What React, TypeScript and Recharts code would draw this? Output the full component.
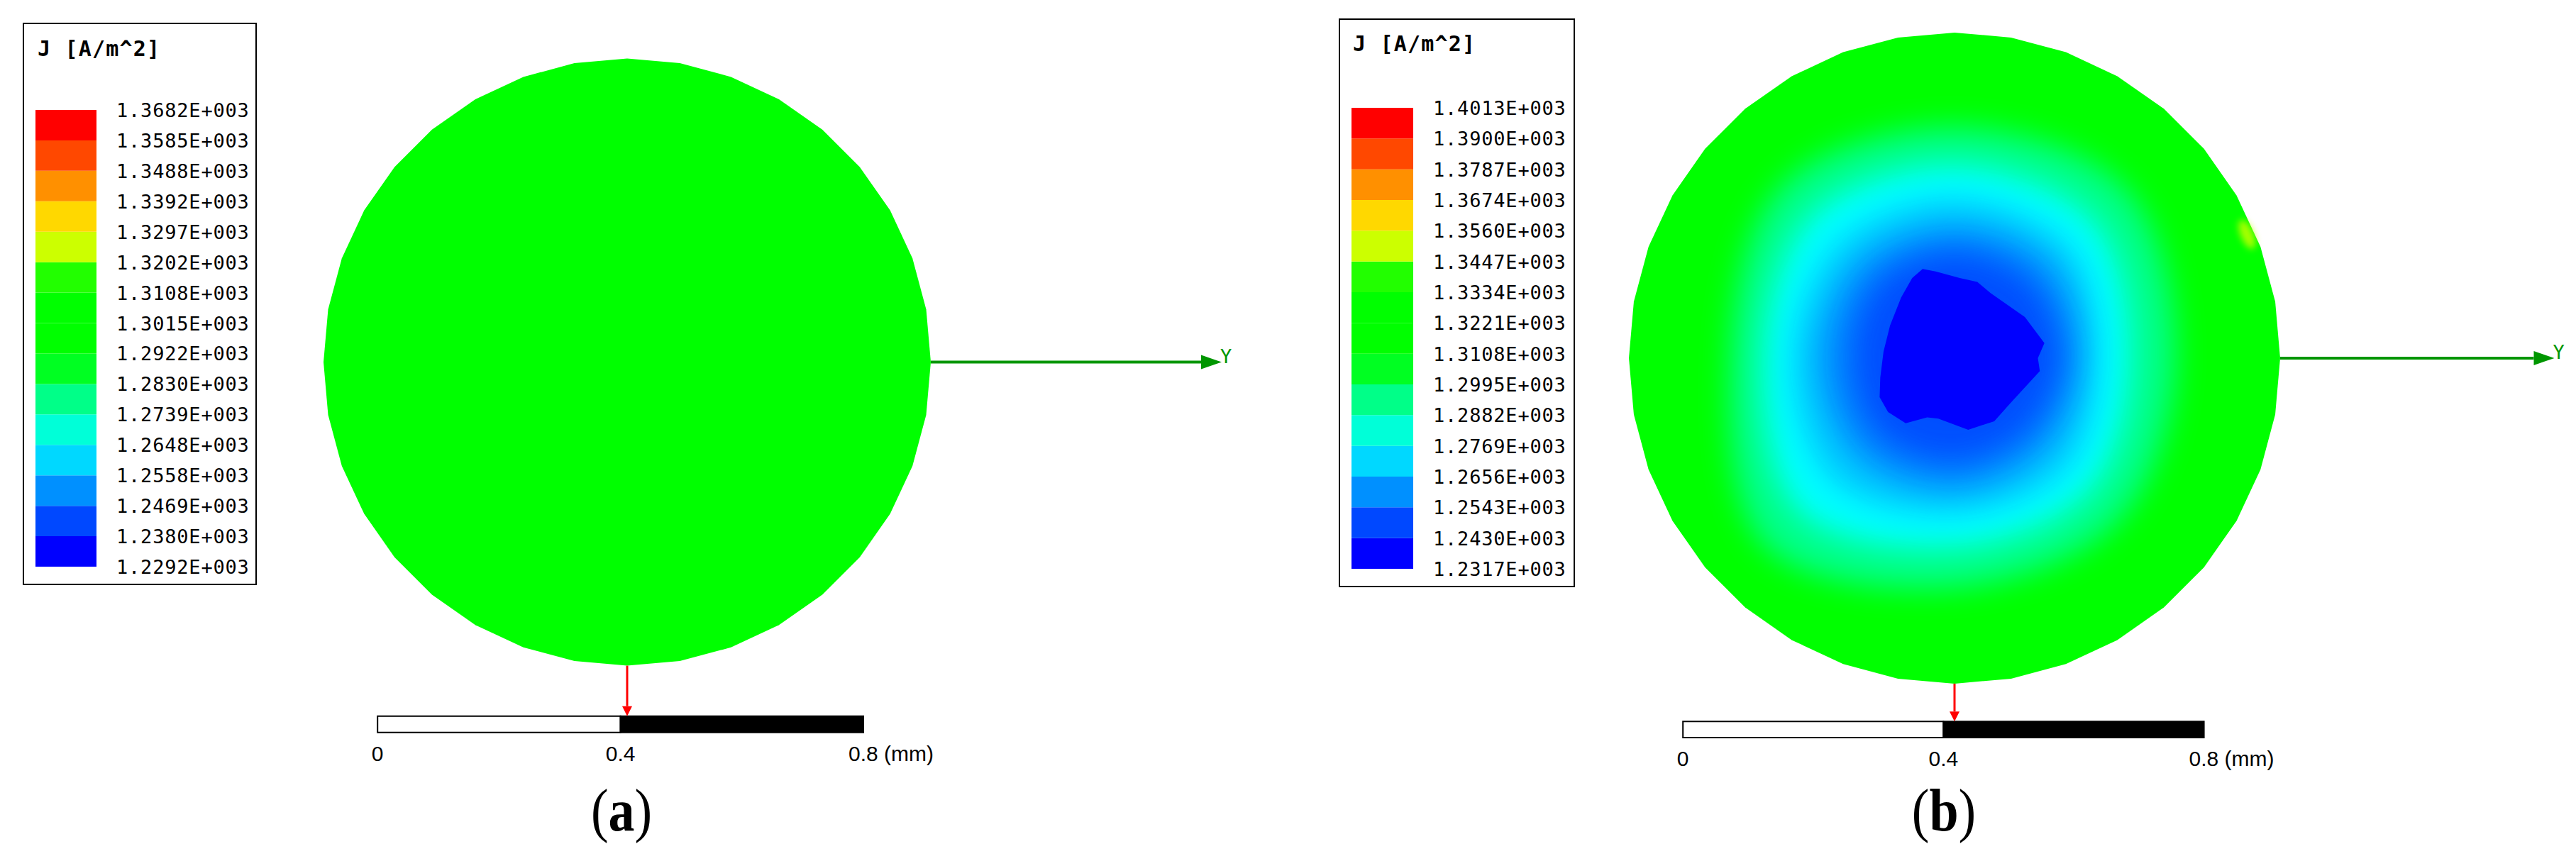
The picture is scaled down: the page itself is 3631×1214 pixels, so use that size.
import React from "react";
import {
  BarChart,
  Bar,
  XAxis,
  YAxis,
  ScatterChart,
  Scatter,
  ReferenceArea,
} from "recharts";

// legend colour bands, top (max) to bottom (min)
const BAND_COLORS = [
  "#ff0000",
  "#ff4800",
  "#ff9000",
  "#ffd800",
  "#ccff00",
  "#22ff00",
  "#00ff00",
  "#00ff00",
  "#00ff22",
  "#00ff88",
  "#00ffd8",
  "#00d8ff",
  "#0090ff",
  "#0048ff",
  "#0000ff",
];

// J levels [A/m^2], top to bottom
const LEVELS_A = [
  1368.2, 1358.5, 1348.8, 1339.2, 1329.7, 1320.2, 1310.8, 1301.5, 1292.2,
  1283.0, 1273.9, 1264.8, 1255.8, 1246.9, 1238.0, 1229.2,
];
const LEVELS_B = [
  1401.3, 1390.0, 1378.7, 1367.4, 1356.0, 1344.7, 1333.4, 1322.1, 1310.8,
  1299.5, 1288.2, 1276.9, 1265.6, 1254.3, 1243.0, 1231.7,
];

// wire cross-section (mm)
const WIRE_RADIUS = 0.5;
const WIRE_FACETS = 36;

// panel (b): outer radius (mm) of each shaded zone, read at these angles (deg)
const CONTOUR_ANGLES = [0, 45, 90, 135, 180, 225, 270, 315];
const RING_SPRING = [0.34, 0.37, 0.355, 0.375, 0.345, 0.41, 0.353, 0.355];
const RING_CYAN = [0.27, 0.3, 0.296, 0.31, 0.293, 0.335, 0.29, 0.29];
const RING_AZURE = [0.22, 0.245, 0.244, 0.25, 0.248, 0.265, 0.238, 0.24];
const RING_SKY = [0.19, 0.205, 0.2, 0.205, 0.205, 0.21, 0.2, 0.195];
const RING_BLUE = [0.163, 0.165, 0.163, 0.165, 0.157, 0.165, 0.16, 0.157];
const RING_COLORS = ["#00ff88", "#00ffff", "#00c8ff", "#0088ff", "#0050ff"];

// panel (b): minimum-J core outline (mm)
const CORE_X = [
  -0.049, -0.029, 0.008, 0.035, 0.055, 0.108, 0.138, 0.128, 0.131, 0.085, 0.061,
  0.021, -0.025, -0.042, -0.075, -0.102, -0.115, -0.114, -0.109, -0.099, -0.082,
  -0.065,
];
const CORE_Y = [
  0.137, 0.133, 0.123, 0.117, 0.1, 0.063, 0.023, 0.0, -0.02, -0.07, -0.097, -0.11,
  -0.093, -0.091, -0.1, -0.083, -0.06, -0.03, 0.01, 0.05, 0.093, 0.123,
];

// small hot spot on the rim of (b)
const SPOT_X = [0.449];
const SPOT_Y = [0.19];

// scale bar
const SCALE_TICKS = [0, 0.4, 0.8];
const SCALE_LABELS = ["0", "0.4", "0.8 (mm)"];

const fmtLevel = (v: number) => (v / 1000).toFixed(4) + "E+003";

const wirePoints = Array.from({ length: WIRE_FACETS }, (_, i) => {
  const a = (i / WIRE_FACETS) * 2 * Math.PI;
  return { x: WIRE_RADIUS * Math.cos(a), y: WIRE_RADIUS * Math.sin(a) };
});

const ringPoints = (radii: number[]) =>
  radii.map((r, i) => {
    const a = (CONTOUR_ANGLES[i] * Math.PI) / 180;
    return { x: r * Math.cos(a), y: r * Math.sin(a) };
  });

const RINGS = [RING_SPRING, RING_CYAN, RING_AZURE, RING_SKY, RING_BLUE];
const corePoints = CORE_X.map((x, i) => ({ x, y: CORE_Y[i] }));
const spotPoints = SPOT_X.map((x, i) => ({ x, y: SPOT_Y[i] }));

type Pt = { x: number; y: number };

function smoothClosedPath(pts: Pt[]) {
  const n = pts.length;
  let d = `M${pts[0].x},${pts[0].y}`;
  for (let i = 0; i < n; i++) {
    const p0 = pts[(i - 1 + n) % n];
    const p1 = pts[i];
    const p2 = pts[(i + 1) % n];
    const p3 = pts[(i + 2) % n];
    const c1x = p1.x + (p2.x - p0.x) / 6;
    const c1y = p1.y + (p2.y - p0.y) / 6;
    const c2x = p2.x - (p3.x - p1.x) / 6;
    const c2y = p2.y - (p3.y - p1.y) / 6;
    d += ` C${c1x},${c1y} ${c2x},${c2y} ${p2.x},${p2.y}`;
  }
  return d + "Z";
}

const polygonLine =
  (fill: string, smooth: boolean, filter?: string) => (props: any) => {
    const pts: Pt[] = props.points || [];
    if (pts.length < 3) return <g />;
    const d = smooth
      ? smoothClosedPath(pts)
      : "M" + pts.map((p) => `${p.x},${p.y}`).join("L") + "Z";
    return <path d={d} fill={fill} stroke="none" filter={filter} />;
  };

const arrowLine =
  (color: string, width: number, headLen: number, headHalf: number) =>
  (props: any) => {
    const pts: Pt[] = props.points || [];
    if (pts.length < 2) return <g />;
    const [a, b] = pts;
    const dx = b.x - a.x;
    const dy = b.y - a.y;
    const len = Math.hypot(dx, dy) || 1;
    const ux = dx / len;
    const uy = dy / len;
    const bx = b.x - ux * headLen;
    const by = b.y - uy * headLen;
    const px = -uy;
    const py = ux;
    return (
      <g>
        <line x1={a.x} y1={a.y} x2={bx} y2={by} stroke={color} strokeWidth={width} />
        <polygon
          points={`${b.x},${b.y} ${bx + px * headHalf},${by + py * headHalf} ${
            bx - px * headHalf
          },${by - py * headHalf}`}
          fill={color}
        />
      </g>
    );
  };

const NoDot = () => <g />;

const AxisLetter = (props: any) => (
  <text
    x={props.cx - 2}
    y={props.cy + 1}
    fontFamily="DejaVu Sans Mono, monospace"
    fontSize={27}
    fill="#009600"
  >
    Y
  </text>
);

const ScaleLabel = (props: any) => {
  const { cx, cy, payload } = props;
  const withUnit = payload.label.indexOf("(") >= 0;
  return (
    <text
      x={withUnit ? cx - 21 : cx}
      y={cy + 40}
      textAnchor={withUnit ? "start" : "middle"}
      fontFamily="Liberation Sans, Arial, sans-serif"
      fontSize={30}
      fill="#000"
    >
      {payload.label}
    </text>
  );
};

const HotSpot = (props: any) => (
  <ellipse
    cx={props.cx}
    cy={props.cy}
    rx={9}
    ry={22}
    fill="#c4ff00"
    fillOpacity={0.85}
    filter="url(#spotBlur)"
    transform={`rotate(-23 ${props.cx} ${props.cy})`}
  />
);

type LegendProps = {
  left: number;
  top: number;
  width: number;
  height: number;
  levels: number[];
  barLeft: number;
  barTop: number;
  barWidth: number;
  barBottom: number;
  titleLeft: number;
  titleTop: number;
};

function ColorLegend(p: LegendProps) {
  const innerW = p.width - 4;
  const innerH = p.height - 4;
  const row: Record<string, any> = { name: "J" };
  BAND_COLORS.forEach((_, i) => {
    row["b" + i] = 1;
  });
  const ticks = p.levels.map((_, i) => i);
  const n = BAND_COLORS.length;
  const yAxisW = innerW - p.barLeft - p.barWidth;
  return (
    <div
      style={{
        position: "absolute",
        left: p.left,
        top: p.top,
        width: p.width,
        height: p.height,
        border: "2px solid #000",
        boxSizing: "border-box",
        background: "#fff",
      }}
    >
      <div
        style={{
          position: "absolute",
          left: p.titleLeft,
          top: p.titleTop,
          fontFamily: '"DejaVu Sans Mono", monospace',
          fontWeight: "bold",
          fontSize: 30,
          lineHeight: "30px",
          letterSpacing: 1.2,
          whiteSpace: "pre",
          color: "#000",
        }}
      >
        J [A/m^2]
      </div>
      <div style={{ position: "absolute", left: 0, top: 0 }}>
        <BarChart
          width={innerW}
          height={innerH}
          data={[row]}
          margin={{ top: p.barTop, right: 0, bottom: innerH - p.barBottom, left: p.barLeft }}
          barCategoryGap={0}
          barGap={0}
        >
          <XAxis dataKey="name" hide />
          <YAxis
            type="number"
            domain={[0, n]}
            ticks={ticks}
            interval={0}
            orientation="right"
            width={yAxisW}
            axisLine={false}
            tickLine={false}
            tickSize={0}
            tickMargin={0}
            tick={(t: any) => (
              <text
                key={t.index}
                x={t.x + 28}
                y={t.y + 10}
                fontFamily="DejaVu Sans Mono, monospace"
                fontSize={27}
                letterSpacing={0.8}
                fill="#000"
              >
                {fmtLevel(p.levels[n - t.payload.value])}
              </text>
            )}
          />
          {BAND_COLORS.map((_, k) => {
            const i = n - 1 - k;
            return (
              <Bar
                key={i}
                dataKey={"b" + i}
                stackId="band"
                fill={BAND_COLORS[i]}
                isAnimationActive={false}
              />
            );
          })}
        </BarChart>
      </div>
    </div>
  );
}

type PanelProps = {
  cx: number;
  cy: number;
  k: number;
  xDomain: [number, number];
  yDomain: [number, number];
  barX0: number;
  barTop: number;
  barBottom: number;
  arrowEnd: number;
  field: "uniform" | "skin";
};

function FieldPanel(p: PanelProps) {
  const width = p.k * (p.xDomain[1] - p.xDomain[0]);
  const height = p.k * (p.yDomain[1] - p.yDomain[0]);
  const left = p.cx + p.k * p.xDomain[0];
  const top = p.cy - p.k * p.yDomain[1];
  const yArrow = [
    { x: WIRE_RADIUS, y: 0 },
    { x: p.arrowEnd, y: 0 },
  ];
  const xArrow = [
    { x: 0, y: -WIRE_RADIUS },
    { x: 0, y: p.barTop },
  ];
  const scalePts = SCALE_TICKS.map((t, i) => ({
    x: p.barX0 + t,
    y: p.barBottom,
    label: SCALE_LABELS[i],
  }));
  return (
    <div style={{ position: "absolute", left, top }}>
      <ScatterChart width={width} height={height} margin={{ top: 0, right: 0, bottom: 0, left: 0 }}>
        <defs>
          <filter id="bandBlur" x="-50%" y="-50%" width="200%" height="200%">
            <feGaussianBlur stdDeviation="21" />
          </filter>
          <filter id="spotBlur" x="-100%" y="-100%" width="300%" height="300%">
            <feGaussianBlur stdDeviation="5" />
          </filter>
        </defs>
        <XAxis type="number" dataKey="x" domain={p.xDomain} allowDataOverflow hide />
        <YAxis type="number" dataKey="y" domain={p.yDomain} allowDataOverflow hide />
        <Scatter
          data={wirePoints}
          shape={NoDot}
          line={polygonLine("#00ff00", false)}
          isAnimationActive={false}
        />
        {p.field === "skin" &&
          RINGS.map((r, i) => (
            <Scatter
              key={"ring" + i}
              data={ringPoints(r)}
              shape={NoDot}
              line={polygonLine(RING_COLORS[i], true, "url(#bandBlur)")}
              isAnimationActive={false}
            />
          ))}
        {p.field === "skin" && (
          <Scatter data={spotPoints} shape={HotSpot} isAnimationActive={false} />
        )}
        {p.field === "skin" && (
          <Scatter
            data={corePoints}
            shape={NoDot}
            line={polygonLine("#0000ff", false)}
            isAnimationActive={false}
          />
        )}
        <Scatter
          data={yArrow}
          shape={NoDot}
          line={arrowLine("#009600", 4, 29, 10)}
          isAnimationActive={false}
        />
        <Scatter data={[yArrow[1]]} shape={AxisLetter} isAnimationActive={false} />
        <Scatter
          data={xArrow}
          shape={NoDot}
          line={arrowLine("#ff0000", 3, 14, 7)}
          isAnimationActive={false}
        />
        <ReferenceArea
          x1={p.barX0}
          x2={p.barX0 + 0.4}
          y1={p.barBottom}
          y2={p.barTop}
          fill="#ffffff"
          fillOpacity={1}
          stroke="#000"
          strokeWidth={2}
        />
        <ReferenceArea
          x1={p.barX0 + 0.4}
          x2={p.barX0 + 0.8}
          y1={p.barBottom}
          y2={p.barTop}
          fill="#000000"
          fillOpacity={1}
          stroke="#000"
          strokeWidth={2}
        />
        <Scatter data={scalePts} shape={ScaleLabel} isAnimationActive={false} />
      </ScatterChart>
    </div>
  );
}

function Caption({ x, letter }: { x: number; letter: string }) {
  return (
    <div
      style={{
        position: "absolute",
        left: x - 100,
        width: 200,
        top: 1101,
        textAlign: "center",
        fontFamily: '"Liberation Serif", serif',
        fontSize: 84,
        lineHeight: "84px",
        transform: "scaleX(0.88)",
        color: "#000",
      }}
    >
      (<b>{letter}</b>)
    </div>
  );
}

export default function App() {
  return (
    <div
      style={{
        position: "absolute",
        left: 0,
        top: 0,
        width: 3631,
        height: 1214,
        overflow: "hidden",
        background: "#fff",
      }}
    >
      <FieldPanel
        cx={884}
        cy={511}
        k={856}
        xDomain={[-1, 1]}
        yDomain={[-0.75, 0.6]}
        barX0={-0.411}
        barTop={-0.583}
        barBottom={-0.61}
        arrowEnd={0.979}
        field="uniform"
      />
      <FieldPanel
        cx={2754.5}
        cy={504.5}
        k={918}
        xDomain={[-1, 0.95]}
        yDomain={[-0.7, 0.55]}
        barX0={-0.417}
        barTop={-0.558}
        barBottom={-0.583}
        arrowEnd={0.921}
        field="skin"
      />
      <ColorLegend
        left={32}
        top={32}
        width={330}
        height={793}
        levels={LEVELS_A}
        barLeft={16}
        barTop={121}
        barWidth={86}
        barBottom={765}
        titleLeft={19}
        titleTop={20}
      />
      <ColorLegend
        left={1887}
        top={26}
        width={333}
        height={802}
        levels={LEVELS_B}
        barLeft={16}
        barTop={124}
        barWidth={87}
        barBottom={774}
        titleLeft={18}
        titleTop={19}
      />
      <Caption x={876} letter="a" />
      <Caption x={2740} letter="b" />
    </div>
  );
}
